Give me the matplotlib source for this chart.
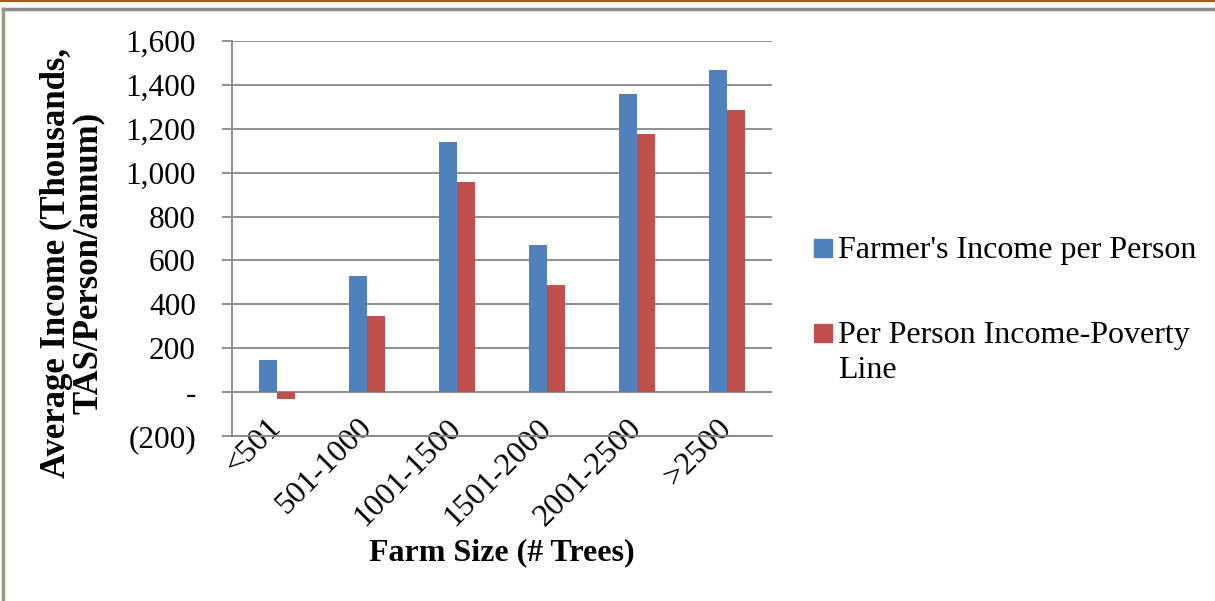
import matplotlib.pyplot as plt
import numpy as np
from matplotlib.lines import Line2D
from matplotlib.patches import Rectangle
from matplotlib.ticker import FuncFormatter, MultipleLocator

plt.rcParams['font.family'] = ['Liberation Serif', 'DejaVu Serif']

# data (thousands TAS / person / annum)
farm_sizes = ['<501', '501-1000', '1001-1500', '1501-2000', '2001-2500', '>2500']
income_per_person = [148, 530, 1140, 670, 1360, 1468]
income_minus_poverty = [-33, 347, 957, 487, 1178, 1284]
series_names = ["Farmer's Income per Person", 'Per Person Income-Poverty\nLine']

BLUE = '#4F81BD'
RED = '#C0504D'
GRID = '#878787'
FS = 23


def accounting(v, pos):
    if v == 0:
        return '-'
    if v < 0:
        return f'({abs(v):,.0f})'
    return f'{v:,.0f}'


fig = plt.figure(figsize=(12.15, 6.01), dpi=100)
ax = fig.add_axes([232 / 1215, 1 - 436 / 601, 540 / 1215, (436 - 41) / 601])

x = np.arange(len(farm_sizes))
w = 0.2
ax.bar(x - w / 2, income_per_person, w, color=BLUE, zorder=3)
ax.bar(x + w / 2, income_minus_poverty, w, color=RED, zorder=3)

ax.set_xlim(-0.5, len(farm_sizes) - 0.5)
ax.set_ylim(-200, 1600)
ax.yaxis.set_major_locator(MultipleLocator(200))
ax.yaxis.set_major_formatter(FuncFormatter(accounting))
ax.grid(axis='y', color=GRID, linewidth=1.3, zorder=0)

for s in ['top', 'right']:
    ax.spines[s].set_visible(False)
for s in ['left', 'bottom']:
    ax.spines[s].set_color(GRID)
    ax.spines[s].set_linewidth(1.3)

ax.tick_params(axis='y', length=7, width=1.3, color=GRID, pad=19, labelsize=22.5)
ax.tick_params(axis='x', length=0, pad=-9, labelsize=FS)
ax.set_xticks(x)
ax.set_xticklabels(farm_sizes, rotation=45, ha='right', va='center', rotation_mode='anchor')

ax.set_xlabel('Farm Size (# Trees)', fontsize=FS, fontweight='bold', labelpad=5)
fig.text(72 / 1215, 1 - 263 / 601, 'Average Income (Thousands,\nTAS/Person/annum)',
         rotation=90, ha='center', va='center', fontsize=25, fontweight='bold',
         linespacing=0.95)

# legend, laid out like the spreadsheet one (marker level with first text line)
legend_y = [248, 333]
for (yc, name, col) in zip(legend_y, series_names, [BLUE, RED]):
    fig.add_artist(Rectangle((814 / 1215, 1 - (yc + 9) / 601), 18 / 1215, 18 / 601,
                             transform=fig.transFigure, color=col))
    fig.text(838 / 1215, 1 - (yc - 12) / 601, name, ha='left', va='top',
             fontsize=FS, linespacing=1.28)

# page frame
fig.add_artist(Line2D([0, 1], [1 - 0.5 / 601, 1 - 0.5 / 601], color='#B35900', lw=1.5))
fig.add_artist(Line2D([3 / 1215, 1], [1 - 9 / 601, 1 - 9 / 601], color='#8C8C8C', lw=2.5))
fig.add_artist(Line2D([3 / 1215, 3 / 1215], [0, 1 - 9 / 601], color='#9A9A80', lw=2.5))

fig.savefig('out.png', dpi=100)
